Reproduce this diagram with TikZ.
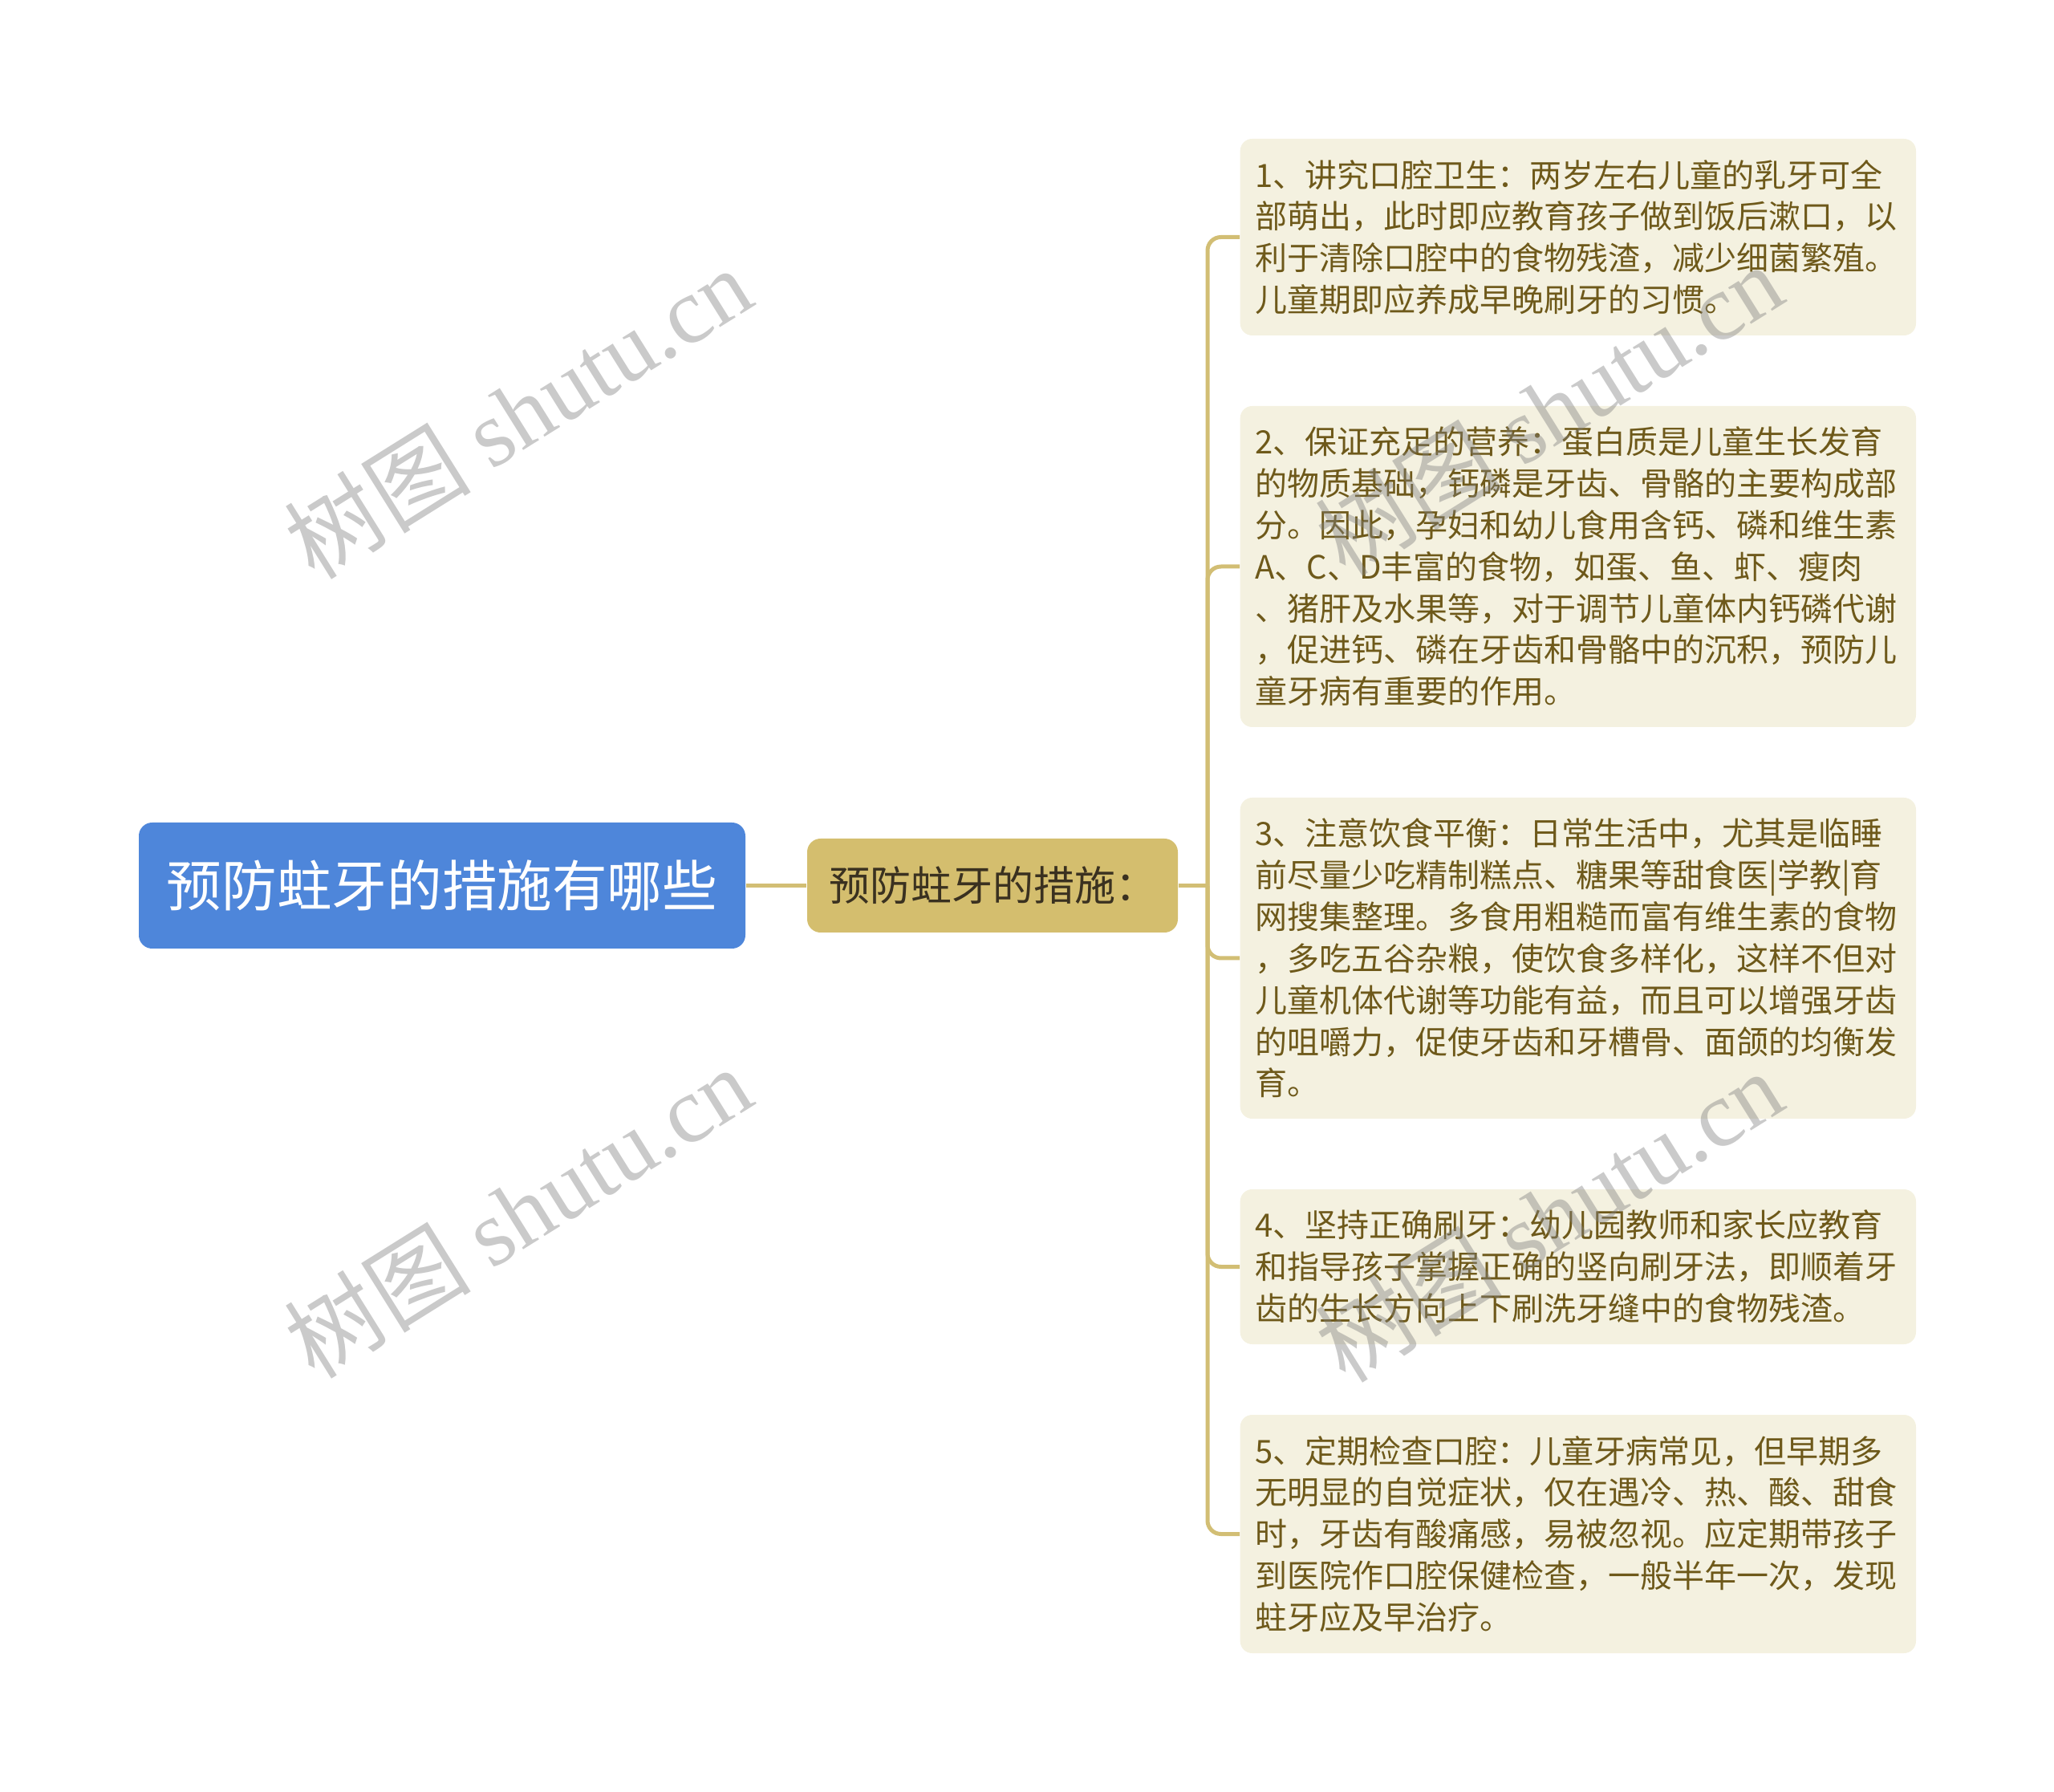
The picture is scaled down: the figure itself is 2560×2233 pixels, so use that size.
\documentclass[tikz,border=0pt]{standalone}
\usepackage{fontspec}
\setmainfont{Noto Sans CJK SC}
\newfontfamily\wmserif{Liberation Serif}
\definecolor{rootblue}{HTML}{4E86DA}
\definecolor{midgold}{HTML}{D4BE6E}
\definecolor{midtext}{HTML}{3A3120}
\definecolor{leaffill}{HTML}{F4F1E0}
\definecolor{leaftext}{HTML}{6E591A}
\definecolor{connline}{HTML}{D2BE74}
\tikzset{
  rootbox/.style={fill=rootblue, text=white, rounded corners=5pt, inner sep=0pt,
    minimum width=226.8pt, minimum height=47.1pt, font=\fontsize{20.6pt}{24pt}\selectfont},
  midbox/.style={fill=midgold, text=midtext, rounded corners=5pt, inner sep=0pt,
    minimum width=138.6pt, minimum height=35.1pt, font=\fontsize{15.3pt}{18pt}\selectfont},
  leafbox/.style={fill=leaffill, text=leaftext, rounded corners=4.5pt, anchor=west,
    align=left, text width=241.5pt, inner xsep=5.6pt, inner ysep=0pt,
    font=\fontsize{12pt}{15.55pt}\selectfont},
  conn/.style={draw=connline, line width=1.5pt},
  wmark/.style={text=black!50, text opacity=0.42, rotate=32, inner sep=0pt,
    font=\fontsize{35pt}{37pt}\selectfont}
}
\begin{document}
\begin{tikzpicture}[x=0.3pt,y=-0.3pt]
\useasboundingbox (0,0) rectangle (2560,2233);
\node[rootbox] (root) at (551,1103.5) {预防蛀牙的措施有哪些};
\node[midbox] (mid) at (1237,1103.5) {预防蛀牙的措施：};
\coordinate (trunk) at (1505,1103.5);

\node[leafbox, minimum height=73.5pt] (l1) at (1545,295.5) {1、讲究口腔卫生：两岁左右儿童的乳牙可全\\部萌出，此时即应教育孩子做到饭后漱口，以\\利于清除口腔中的食物残渣，减少细菌繁殖。\\儿童期即应养成早晚刷牙的习惯。};
\node[leafbox, minimum height=120pt] (l2) at (1545,706) {2、保证充足的营养：蛋白质是儿童生长发育\\的物质基础，钙磷是牙齿、骨骼的主要构成部\\分。因此，孕妇和幼儿食用含钙、磷和维生素\\A、C、D丰富的食物，如蛋、鱼、虾、瘦肉\\、猪肝及水果等，对于调节儿童体内钙磷代谢\\，促进钙、磷在牙齿和骨骼中的沉积，预防儿\\童牙病有重要的作用。};
\node[leafbox, minimum height=120pt] (l3) at (1545,1194) {3、注意饮食平衡：日常生活中，尤其是临睡\\前尽量少吃精制糕点、糖果等甜食医|学教|育\\网搜集整理。多食用粗糙而富有维生素的食物\\，多吃五谷杂粮，使饮食多样化，这样不但对\\儿童机体代谢等功能有益，而且可以增强牙齿\\的咀嚼力，促使牙齿和牙槽骨、面颌的均衡发\\育。};
\node[leafbox, minimum height=57.9pt] (l4) at (1545,1578.5) {4、坚持正确刷牙：幼儿园教师和家长应教育\\和指导孩子掌握正确的竖向刷牙法，即顺着牙\\齿的生长方向上下刷洗牙缝中的食物残渣。};
\node[leafbox, minimum height=89.1pt] (l5) at (1545,1911.5) {5、定期检查口腔：儿童牙病常见，但早期多\\无明显的自觉症状，仅在遇冷、热、酸、甜食\\时，牙齿有酸痛感，易被忽视。应定期带孩子\\到医院作口腔保健检查，一般半年一次，发现\\蛀牙应及早治疗。};

\draw[conn] (root.east) -- (mid.west);
\draw[conn] (mid.east) -- (trunk);
\foreach \l in {l1,l2,l3,l4,l5}{
  \draw[conn, rounded corners=5pt] (trunk) |- (\l.west);
}

\node[wmark] (w1) at (645,514) {树图 {\wmserif shutu.cn}};
\node[wmark] (w2) at (1930,510) {树图 {\wmserif shutu.cn}};
\node[wmark] (w3) at (645,1510) {树图 {\wmserif shutu.cn}};
\node[wmark] (w4) at (1930,1515) {树图 {\wmserif shutu.cn}};
\end{tikzpicture}
\end{document}
